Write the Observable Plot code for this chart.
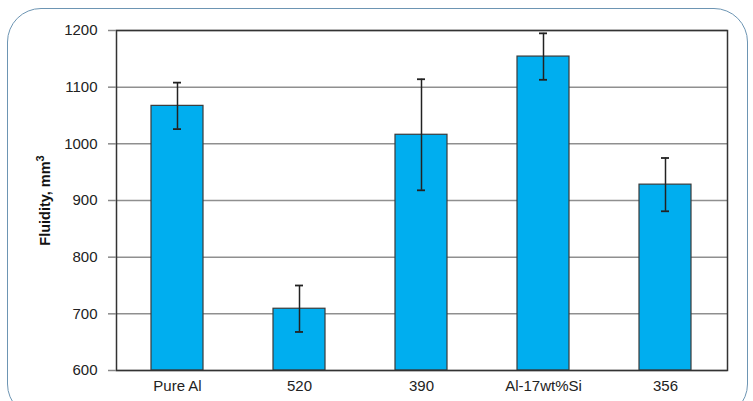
<!DOCTYPE html>
<html>
<head>
<meta charset="utf-8">
<script src="https://cdn.jsdelivr.net/npm/d3@7"></script>
<script src="https://cdn.jsdelivr.net/npm/@observablehq/plot@0.6"></script>
<style>
  html, body { margin: 0; padding: 0; background: #fff; overflow: hidden; }
  #wrap { position: relative; width: 753px; height: 401px; overflow: hidden; }
  #border { position: absolute; left: 7px; top: 8px; width: 741px; height: 410px;
    border: 1.5px solid #6d95b3; border-radius: 34px; box-sizing: border-box; pointer-events: none; }
  #chart { position: absolute; left: 0; top: 0; }
</style>
</head>
<body>
<div id="wrap"><div id="chart"></div><div id="border"></div></div>
<script>
const categories = ["Pure Al", "520", "390", "Al-17wt%Si", "356"];
const fluidity = [1067, 709, 1016, 1154, 928];
const errors = [41, 41, 98, 41, 47];
const yTicks = [600, 700, 800, 900, 1000, 1100, 1200];
const yLabelMain = "Fluidity, mm";
const yLabelSup = "3";

const data = categories.map((c, i) => ({
  cat: c, base: 600, v: fluidity[i], lo: fluidity[i] - errors[i], hi: fluidity[i] + errors[i]
}));

const font = "'Liberation Sans', Arial, Helvetica, sans-serif";

const chart = Plot.plot({
  width: 753,
  height: 401,
  marginLeft: 116,
  marginRight: 26,
  marginTop: 30,
  marginBottom: 31,
  style: { fontFamily: font, fontSize: "15px", background: "transparent", color: "#222" },
  x: { domain: categories, paddingInner: 0.57, paddingOuter: 0.28, label: null },
  y: { domain: [600, 1200], label: null },
  marks: [
    Plot.gridY(yTicks, { stroke: "#8f8f8f", strokeOpacity: 1, strokeWidth: 1.5 }),
    Plot.barY(data, { x: "cat", y1: "base", y2: "v", fill: "#00aeef", stroke: "#3a3a3a", strokeWidth: 1.2 }),
    Plot.ruleX(data, { x: "cat", y1: "lo", y2: "hi", stroke: "#222", strokeWidth: 1.5 }),
    Plot.tickY(data, { x: "cat", y: "hi", stroke: "#222", strokeWidth: 1.8, insetLeft: 22, insetRight: 22 }),
    Plot.tickY(data, { x: "cat", y: "lo", stroke: "#222", strokeWidth: 1.8, insetLeft: 22, insetRight: 22 }),
    Plot.frame({ stroke: "#333", strokeWidth: 1.5 }),
    Plot.axisY(yTicks, { tickSize: 8, tickPadding: 11, fontSize: 15, stroke: "#888", strokeWidth: 1.5, label: null, tickFormat: d => String(d) }),
    Plot.axisX({ tickSize: 0, tickPadding: 10, fontSize: 15, label: null }),
    Plot.text([yLabelMain], { text: d => d, frameAnchor: "left", dx: -71, dy: 0, rotate: -90, fontWeight: "bold", fontSize: 14.5, textAnchor: "middle", lineAnchor: "middle", fill: "#111", className: "ylab" })
  ]
});
// add superscript to the y label as real text
const t = chart.querySelector(".ylab text");
if (t) {
  const ns = "http://www.w3.org/2000/svg";
  const main = t.textContent;
  t.textContent = "";
  const s1 = document.createElementNS(ns, "tspan");
  s1.textContent = main;
  const s2 = document.createElementNS(ns, "tspan");
  s2.textContent = yLabelSup;
  s2.setAttribute("dy", "-0.6em");
  s2.setAttribute("font-size", "11px");
  t.appendChild(s1);
  t.appendChild(s2);
}
document.getElementById("chart").appendChild(chart);
</script>
</body>
</html>
